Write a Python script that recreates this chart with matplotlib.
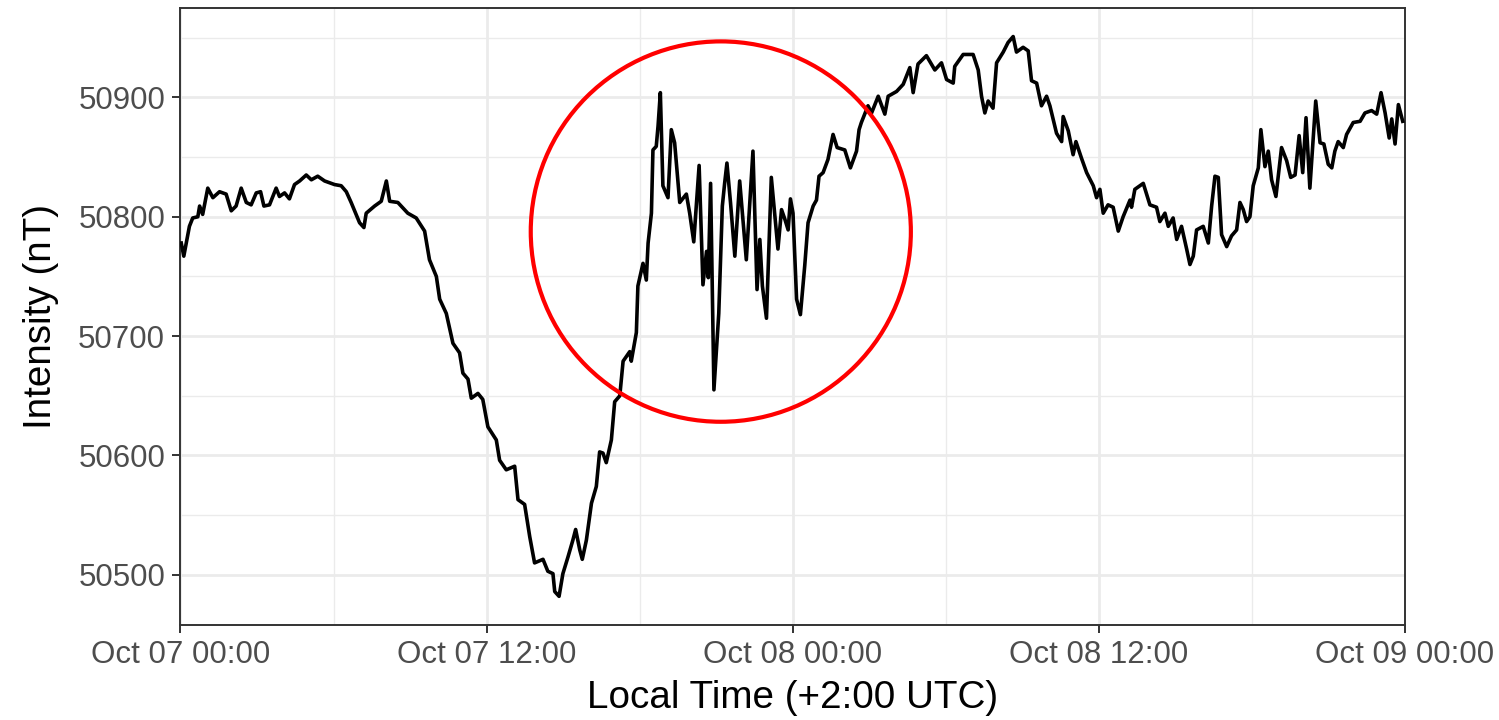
import numpy as np
import pandas as pd
import matplotlib
matplotlib.use("Agg")
import matplotlib.pyplot as plt
import matplotlib.dates as mdates
from matplotlib.patches import Ellipse

plt.rcParams['font.family'] = ['Liberation Sans', 'DejaVu Sans']

# hours after Oct 07 00:00 local time, and field intensity (nT)
hours = [0.03, 0.13, 0.35, 0.48, 0.68, 0.75, 0.87, 1.07, 1.27, 1.53, 1.79, 1.99, 2.18, 2.38, 2.58, 2.77,
         2.97, 3.14, 3.27, 3.49, 3.75, 3.88, 4.08, 4.27, 4.47, 4.67, 4.93, 5.13, 5.38, 5.65, 6.04, 6.30,
         6.50, 6.69, 7.02, 7.19, 7.28, 7.61, 7.87, 8.07, 8.20, 8.52, 8.91, 9.24, 9.57,
         9.76, 10.03, 10.16, 10.42, 10.68, 10.94, 11.07, 11.27, 11.40, 11.66, 11.85, 12.05, 12.38, 12.51,
         12.77, 13.10, 13.23, 13.49, 13.69, 13.88, 14.21, 14.40, 14.60, 14.67, 14.84, 14.99, 15.19, 15.38,
         15.49, 15.65, 15.75, 15.91, 16.11, 16.30, 16.43, 16.56, 16.69, 16.89, 17.02, 17.22, 17.35, 17.61,
         17.67, 17.87, 17.93, 18.13, 18.26, 18.33, 18.46,
         18.52, 18.65, 18.72, 18.81, 18.91, 19.11, 19.24, 19.37, 19.57, 19.83, 19.96, 20.12, 20.33, 20.48,
         20.62, 20.69, 20.78, 20.91, 21.10, 21.24, 21.33, 21.42, 21.56, 21.73, 21.92, 22.18, 22.44, 22.60,
         22.71, 22.81, 22.97, 23.16, 23.42, 23.56, 23.69, 23.82, 23.91, 24.01, 24.15, 24.30, 24.47, 24.60,
         24.80, 24.93, 25.03, 25.19, 25.38, 25.58, 25.74, 26.04, 26.26, 26.50, 26.60,
         26.69, 26.95, 27.09, 27.35, 27.61, 27.74, 28.07, 28.33, 28.59, 28.72, 28.91, 29.24, 29.57, 29.83,
         30.03, 30.29, 30.35, 30.68, 31.07, 31.27, 31.40, 31.53, 31.66, 31.85, 31.99, 32.25, 32.44, 32.64,
         32.77, 33.03, 33.23, 33.36, 33.56, 33.75, 33.95,
         34.08, 34.34, 34.54, 34.60, 34.80, 34.99, 35.10, 35.32, 35.52, 35.78, 35.91, 36.04, 36.17, 36.36,
         36.56, 36.76, 36.95, 37.22, 37.28, 37.41, 37.74, 38.00, 38.26, 38.39, 38.59, 38.72, 38.91, 39.05,
         39.24, 39.44, 39.57, 39.70, 39.83, 40.09, 40.29, 40.42, 40.55, 40.68, 40.81, 41.01, 41.20, 41.40,
         41.53, 41.66, 41.79, 41.92, 42.05, 42.25, 42.35, 42.51, 42.64, 42.77, 42.94, 43.16, 43.36, 43.52,
         43.69, 43.85, 43.99, 44.12, 44.27, 44.50, 44.67, 44.82, 44.99, 45.13, 45.25, 45.38, 45.58, 45.71,
         45.97, 46.24, 46.43, 46.69, 46.89, 47.06, 47.22, 47.38, 47.48, 47.61, 47.74, 47.91]

intensity = [50778, 50767, 50792, 50799, 50800, 50809, 50802, 50824, 50816, 50821, 50819, 50805, 50809, 50824, 50812, 50810,
             50820, 50821, 50809, 50810, 50824, 50817, 50820, 50815, 50827, 50830, 50835, 50831, 50834, 50830, 50827, 50826,
             50821, 50812, 50795, 50791, 50803, 50809, 50813, 50830, 50813, 50812, 50803, 50799, 50788,
             50764, 50750, 50731, 50719, 50694, 50686, 50669, 50664, 50648, 50652, 50647, 50624, 50613, 50596,
             50588, 50591, 50563, 50559, 50532, 50510, 50513, 50503, 50501, 50486, 50482, 50501, 50515, 50529,
             50538, 50521, 50513, 50529, 50560, 50574, 50603, 50602, 50594, 50613, 50645, 50650, 50679, 50687,
             50679, 50703, 50742, 50761, 50747, 50778, 50803,
             50856, 50859, 50876, 50904, 50826, 50816, 50873, 50862, 50812, 50819, 50803, 50779, 50843, 50743,
             50771, 50749, 50828, 50655, 50719, 50809, 50828, 50845, 50812, 50767, 50830, 50764, 50855, 50739,
             50781, 50742, 50715, 50833, 50773, 50806, 50798, 50789, 50815, 50803, 50731, 50718, 50759, 50795,
             50809, 50814, 50834, 50837, 50848, 50869, 50858, 50856, 50841, 50855, 50873,
             50879, 50893, 50887, 50901, 50886, 50901, 50905, 50911, 50925, 50904, 50928, 50935, 50923, 50929,
             50915, 50912, 50926, 50936, 50936, 50923, 50901, 50887, 50897, 50891, 50929, 50938, 50946, 50951,
             50938, 50942, 50939, 50914, 50912, 50893, 50901,
             50893, 50870, 50863, 50884, 50872, 50852, 50863, 50849, 50837, 50826, 50816, 50823, 50803, 50810,
             50808, 50788, 50800, 50814, 50808, 50823, 50828, 50810, 50808, 50796, 50803, 50792, 50799, 50781,
             50792, 50773, 50760, 50767, 50789, 50792, 50778, 50809, 50834, 50833, 50785, 50775, 50784, 50789,
             50812, 50806, 50796, 50800, 50826, 50841, 50873, 50842, 50855, 50831, 50817, 50858, 50847, 50833,
             50835, 50868, 50837, 50883, 50824, 50897, 50862, 50861, 50844, 50841, 50855, 50863, 50858, 50869,
             50879, 50880, 50887, 50889, 50886, 50904, 50887, 50866, 50882, 50861, 50894, 50880]

start = pd.Timestamp("2023-10-07 00:00")
times = start + pd.to_timedelta(hours, unit="h")

fig = plt.figure(figsize=(14.99, 7.2), dpi=100)
ax = fig.add_axes([0.1204, 0.132, 0.8169, 0.857])

ax.plot(times, intensity, color="black", linewidth=2.6, zorder=3,
        solid_joinstyle="round")

x0 = mdates.date2num(start)
ax.set_xlim(x0, x0 + 2)
ax.set_ylim(50458, 50975)

# circle around the disturbed part
cx = mdates.date2num(start + pd.Timedelta(hours=21.18))
circle = Ellipse((cx, 50787.6), width=14.9 / 24, height=318.7, fill=False,
                 edgecolor="#FF0000", linewidth=3.0, zorder=4)
ax.add_patch(circle)

ax.xaxis.set_major_locator(mdates.HourLocator(byhour=[0, 12]))
ax.xaxis.set_minor_locator(mdates.HourLocator(byhour=[6, 18]))
ax.xaxis.set_major_formatter(mdates.DateFormatter("%b %d %H:%M"))
ax.set_yticks([50500, 50600, 50700, 50800, 50900])
ax.set_yticks([50550, 50650, 50750, 50850, 50950], minor=True)

ax.grid(which="major", color="#EBEBEB", linewidth=2.0, zorder=0)
ax.grid(which="minor", color="#EBEBEB", linewidth=1.0, zorder=0)
ax.set_axisbelow(True)

for s in ax.spines.values():
    s.set_color("#333333")
    s.set_linewidth(1.4)

ax.tick_params(which="major", length=6, width=1.4, color="#333333",
               labelsize=22.5, labelcolor="#4D4D4D", pad=5)
ax.tick_params(which="minor", length=0)

ax.set_xlabel("Local Time (+2:00 UTC)", fontsize=27.8, color="black", labelpad=7)
ax.set_ylabel("Intensity (nT)", fontsize=27.8, color="black", labelpad=14)

plt.savefig("out.png", dpi=100)
